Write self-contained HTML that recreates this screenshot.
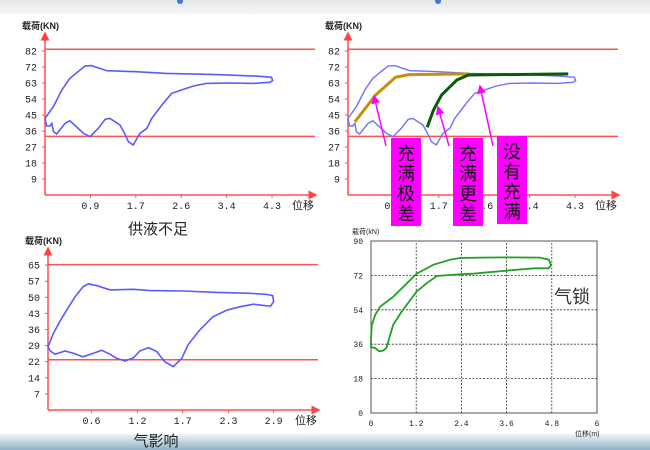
<!DOCTYPE html>
<html><head><meta charset="utf-8"><style>
html,body{margin:0;padding:0;background:#fff;}
svg{display:block;font-family:"Liberation Mono","Noto Sans CJK SC",monospace;}
.cj{font-family:"Liberation Sans","Noto Sans CJK SC",sans-serif;}
</style></head><body>
<svg id="s" width="650" height="450" viewBox="0 0 650 450" xmlns="http://www.w3.org/2000/svg">
<defs>
<linearGradient id="bot" x1="0" y1="0" x2="0" y2="1"><stop offset="0" stop-color="#eef4f7"/><stop offset="1" stop-color="#93b3c4"/></linearGradient>
<linearGradient id="top" x1="0" y1="0" x2="0" y2="1"><stop offset="0" stop-color="#e4e6e8"/><stop offset="1" stop-color="#f8f8f8"/></linearGradient>
<marker id="ar" markerWidth="6" markerHeight="6" refX="5" refY="3" orient="auto"><path d="M0,0 L6,3 L0,6 z" fill="#ff4444"/></marker>
<marker id="am" markerWidth="6" markerHeight="6" refX="5" refY="3" orient="auto"><path d="M0,0 L6,3 L0,6 z" fill="#ff00ff"/></marker>
</defs>
<rect x="0" y="0" width="650" height="14" fill="url(#top)"/>
<circle cx="180" cy="1" r="3" fill="#3a7bd5"/>
<circle cx="438" cy="1" r="3" fill="#3a7bd5"/>
<rect x="0" y="434" width="650" height="16" fill="url(#bot)"/>
<g id="g"></g>
</svg>
<script>
// ---- Chart 1 / 2 (供液不足 & 充满) data ----
const c1YTicks = ["9","18","27","36","45","54","63","72","82"];
const c1XTicks = ["0.9","1.7","2.6","3.4","4.3"];
const c1XTickVals = [0.86,1.72,2.58,3.44,4.3];
const c1Upper = 82, c1Lower = 33;
const c1X = [0,0.16,0.32,0.47,0.76,0.88,1.17,1.67,2.31,3.25,4.01,4.29,4.31,4.26,3.95,3.50,3.06,2.81,2.62,2.40,2.24,2.02,1.93,1.80,1.67,1.58,1.52,1.42,1.23,1.14,1.01,0.85,0.73,0.47,0.38,0.22,0.16,0.13,0.09,0.03,0];
const c1Y = [43.1,49.7,59.1,65.6,72.6,72.8,69.9,69.4,68.4,67.7,66.9,66.2,64.3,63.4,62.8,63.0,62.8,61.3,59.4,57.2,51.6,43.1,37.5,34.7,28.1,30.0,33.8,39.4,43.1,42.6,37.5,32.8,34.7,41.8,40.3,34.3,35.6,40.3,38.8,38.8,43.1];
const c2BrownX = [0.13,0.52,0.90,1.15,2.28];
const c2BrownY = [41.2,56.2,66.2,67.7,68.1];
const c2GreenX = [1.50,1.62,1.77,2.06,2.28,4.17];
const c2GreenY = [38.1,47.8,56.2,64.7,67.5,68.1];
// ---- Chart 3 (气影响) data ----
const c3YTicks = ["7","14","22","29","36","43","50","57","65"];
const c3XTicks = ["0.6","1.2","1.7","2.3","2.9"];
const c3XTickVals = [0.56,1.15,1.73,2.32,2.9];
const c3Upper = 65, c3Lower = 22.5;
const c3X = [0,0.07,0.15,0.24,0.35,0.45,0.52,0.63,0.80,1.10,1.31,1.74,2.17,2.60,2.81,2.89,2.90,2.86,2.81,2.64,2.47,2.30,2.12,1.95,1.80,1.72,1.61,1.50,1.40,1.29,1.18,1.10,0.99,0.88,0.80,0.69,0.58,0.45,0.33,0.22,0.09,0.03,0];
const c3Y = [28.3,34.3,39.5,44.7,50.7,55.1,56.4,55.6,53.7,54.0,53.4,53.2,52.6,52.2,51.7,51.1,48.4,46.5,46.6,47.3,46.2,44.7,41.7,35.8,29.1,23.1,19.4,21.6,26.1,27.9,26.4,23.4,21.9,23.1,24.9,26.7,25.3,23.8,25.3,26.4,24.9,26.4,28.3];
// ---- Chart 4 (气锁) data ----
const c4YTicks = [0,18,36,54,72,90];
const c4XTicks = [0,1.2,2.4,3.6,4.8,6];
const c4X = [0,0.02,0.11,0.24,0.59,1.21,1.66,2.10,2.37,2.90,3.61,4.49,4.72,4.78,4.72,4.32,3.61,2.99,2.72,2.37,2.10,1.75,1.48,1.21,0.82,0.59,0.41,0.33,0.22,0.11,0,0];
const c4Y = [39.1,46.0,51.2,55.6,60.8,72.9,77.6,80.2,81.1,81.3,81.4,81.3,80.2,77.4,75.7,75.7,74.5,73.4,72.9,72.6,72.2,71.7,67.9,63.5,53.2,46.2,34.0,32.7,32.3,34.0,34.4,39.1];

const NS = "http://www.w3.org/2000/svg";
const G = document.getElementById('g');
function mk(tag, attrs, parent, text){
  const e = document.createElementNS(NS, tag);
  for (const k in attrs) e.setAttribute(k, attrs[k]);
  if (text !== undefined) e.textContent = text;
  (parent || G).appendChild(e);
  return e;
}
function pathFrom(xs, ys, sx, sy){
  let d = "";
  for (let i = 0; i < xs.length; i++) d += (i ? "L" : "M") + sx(xs[i]).toFixed(1) + "," + sy(ys[i]).toFixed(1);
  return d;
}
function redChart(name, ox, oy, xPer, yPer, yStep, yTicks, xTicks, xTickVals, upper, lower){
  const g = mk('g', {});
  
  
  const sx = v => ox + v * xPer;
  const sy = v => oy - v * yPer;
  let t = mk('text', {x: ox - 23, y: oy - 166, 'font-size': 9, 'font-weight': 'bold', fill: '#222', class: 'cj'}, g, '载荷(KN)');
  
  
  let l = mk('line', {x1: ox, y1: sy(upper), x2: ox + 270, y2: sy(upper), stroke: '#ff5050', 'stroke-width': 1.5}, g);
  
  
  l = mk('line', {x1: ox, y1: sy(lower), x2: ox + 270, y2: sy(lower), stroke: '#ff5050', 'stroke-width': 1.5}, g);
  
  
  l = mk('line', {x1: ox, y1: oy, x2: ox, y2: oy - 162, stroke: '#ff5050', 'stroke-width': 1.5, 'marker-end': 'url(#ar)'}, g);
  
  
  l = mk('line', {x1: ox, y1: oy, x2: ox + 271, y2: oy, stroke: '#ff5050', 'stroke-width': 1.5, 'marker-end': 'url(#ar)'}, g);
  
  
  yTicks.forEach((lab, i) => {
    const y = sy((i + 1) * yStep);
    let tt = mk('text', {x: ox - 8, y: y + 3.5, 'font-size': 10, 'text-anchor': 'end', fill: '#222'}, g, lab);
    
    
    mk('line', {x1: ox - 3, y1: y, x2: ox, y2: y, stroke: '#ff5050'}, g);
  });
  xTicks.forEach((lab, i) => {
    const x = sx(xTickVals[i]);
    let tt = mk('text', {x: x, y: oy + 14, 'font-size': 10, 'text-anchor': 'middle', fill: '#222'}, g, lab);
    
    
    mk('line', {x1: x, y1: oy, x2: x, y2: oy + 3, stroke: '#ff5050'}, g);
  });
  t = mk('text', {x: ox + 247, y: oy + 14, 'font-size': 11, fill: '#222', class: 'cj'}, g, '位移');
  
  
  return {g, sx, sy};
}
// Chart 1
let C = redChart('chart-insufficient-supply', 45, 195, 52.8, 16/9, 9, c1YTicks, c1XTicks, c1XTickVals, c1Upper, c1Lower);
let p = mk('path', {d: pathFrom(c1X, c1Y, C.sx, C.sy), fill: 'none', stroke: '#5a5aff', 'stroke-width': 1.6}, C.g);


let tx = mk('text', {x: 158, y: 234, 'font-size': 15, 'text-anchor': 'middle', fill: '#222', class: 'cj'}, null, '供液不足');


// Chart 2
C = redChart('chart-fill-comparison', 348, 195, 52.8, 16/9, 9, c1YTicks, c1XTicks, c1XTickVals, c1Upper, c1Lower);
p = mk('path', {d: pathFrom(c1X, c1Y, C.sx, C.sy), fill: 'none', stroke: '#7070ff', 'stroke-width': 1.4}, C.g);


p = mk('path', {d: pathFrom(c2BrownX, c2BrownY, C.sx, C.sy), fill: 'none', stroke: '#c8900a', 'stroke-width': 3}, C.g);


p = mk('path', {d: pathFrom(c2GreenX, c2GreenY, C.sx, C.sy), fill: 'none', stroke: '#0a5a0a', 'stroke-width': 3}, C.g);


const arrows = [[386,146,374,96],[449,146,438,107],[493,146,480,86]];
arrows.forEach(a => {
  const l = mk('line', {x1: a[0], y1: a[1], x2: a[2], y2: a[3], stroke: '#ff00ff', 'stroke-width': 1.5, 'marker-end': 'url(#am)'});
  
  
});
const boxes = [[391,138,'充满极差','box-extremely-poor-fill'],[453,138,'充满更差','box-worse-fill'],[497,136,'没有充满','box-not-full']];
boxes.forEach(b => {
  const r = mk('rect', {x: b[0], y: b[1], width: 30, height: 88, fill: '#ff00ff'});
  
  
  [...b[2]].forEach((ch, i) => {
    const t = mk('text', {x: b[0] + 15, y: b[1] + 22 + i * 20, 'font-size': 18, 'text-anchor': 'middle', fill: '#111', class: 'cj'}, null, ch);
    
    
  });
});
// Chart 3
C = redChart('chart-gas-influence', 48, 410, 77.8, 2.236, 7.2, c3YTicks, c3XTicks, c3XTickVals, c3Upper, c3Lower);
p = mk('path', {d: pathFrom(c3X, c3Y, C.sx, C.sy), fill: 'none', stroke: '#5a5aff', 'stroke-width': 1.6}, C.g);


tx = mk('text', {x: 156, y: 446, 'font-size': 15, 'text-anchor': 'middle', fill: '#222', class: 'cj'}, null, '气影响');


// Chart 4
(function(){
  const g = mk('g', {});
  
  
  const x0 = 371, x1 = 597, y0 = 413, y1 = 241;
  const sx = v => x0 + v / 6 * (x1 - x0);
  const sy = v => y0 - v / 90 * (y0 - y1);
  c4YTicks.forEach(v => {
    if (v > 0 && v < 90) mk('line', {x1: x0, y1: sy(v), x2: x1, y2: sy(v), stroke: '#333', 'stroke-dasharray': '2,1.5', 'stroke-width': 0.8}, g);
    const t = mk('text', {x: x0 - 8, y: sy(v) + 3, 'font-size': 8, 'text-anchor': 'end', fill: '#222'}, g, String(v));
    
    
  });
  c4XTicks.forEach(v => {
    if (v > 0 && v < 6) mk('line', {x1: sx(v), y1: y0, x2: sx(v), y2: y1, stroke: '#333', 'stroke-dasharray': '2,1.5', 'stroke-width': 0.8}, g);
    const t = mk('text', {x: sx(v), y: y0 + 13, 'font-size': 8, 'text-anchor': 'middle', fill: '#222'}, g, String(v));
    
    
  });
  const r = mk('rect', {x: x0, y: y1, width: x1 - x0, height: y0 - y1, fill: 'none', stroke: '#555', 'stroke-width': 1}, g);
  
  
  let t = mk('text', {x: 352, y: 234, 'font-size': 7, fill: '#222', class: 'cj'}, g, '载荷(kN)');
  
  
  t = mk('text', {x: 575, y: 436, 'font-size': 7, fill: '#222', class: 'cj'}, g, '位移(m)');
  
  
  const pp = mk('path', {d: pathFrom(c4X, c4Y, sx, sy), fill: 'none', stroke: '#22a022', 'stroke-width': 1.8}, g);
  
  
  t = mk('text', {x: 572, y: 303, 'font-size': 18, 'text-anchor': 'middle', fill: '#333', class: 'cj'}, g, '气锁');
  
  
})();
</script>
</body></html>
